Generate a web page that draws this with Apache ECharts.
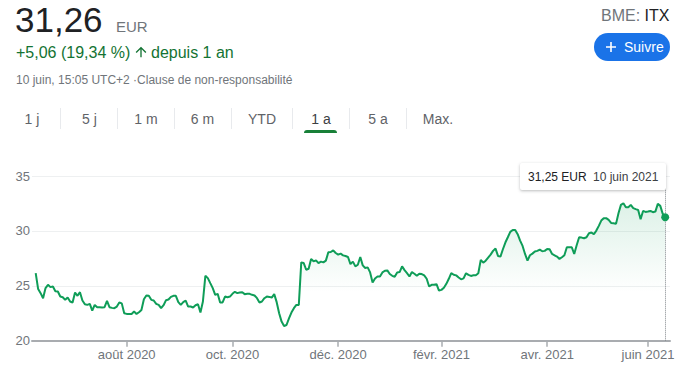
<!DOCTYPE html>
<html>
<head>
<meta charset="utf-8">
<script src="https://cdn.jsdelivr.net/npm/echarts@6/dist/echarts.min.js"></script>
<style>
  html, body { margin:0; padding:0; width:690px; height:369px; overflow:hidden; background:#fff;
    font-family: "Liberation Sans", Arial, sans-serif; }
  #chart { position:absolute; left:0; top:0; width:690px; height:369px; }
  .t { position:absolute; white-space:nowrap; line-height:1; }
  .tab { position:absolute; top:112px; font-size:14px; color:#5f6368; transform:translateX(-50%); white-space:nowrap; line-height:1; }
  .sep { position:absolute; top:108px; width:1px; height:21px; background:#e8eaed; }
</style>
</head>
<body>
<div id="chart"></div>

<div class="t" style="left:15px;top:2px;font-size:35px;color:#202124;">31,26</div>
<div class="t" style="left:116px;top:19px;font-size:15px;color:#70757a;">EUR</div>
<div class="t" style="left:16px;top:45px;font-size:16px;color:#137333;">+5,06 (19,34 %)</div>
<svg style="position:absolute;left:133px;top:44px;" width="16" height="16" viewBox="0 0 24 24"><path fill="#137333" d="M4 12l1.41 1.41L11 7.83V20h2V7.83l5.58 5.59L20 12l-8-8-8 8z"/></svg>
<div class="t" style="left:151px;top:45px;font-size:16px;color:#137333;">depuis 1 an</div>
<div class="t" style="left:16px;top:74px;font-size:12px;color:#70757a;">10 juin, 15:05 UTC+2 ·Clause de non-responsabilité</div>

<div class="t" style="left:601px;top:8px;font-size:16px;color:#70757a;">BME: <span style="color:#202124">ITX</span></div>
<div style="position:absolute;left:594px;top:33px;width:76px;height:28px;border-radius:14px;background:#1a73e8;"></div>
<svg style="position:absolute;left:605px;top:41px;" width="12" height="12" viewBox="0 0 12 12"><path d="M6 1v10M1 6h10" stroke="#fff" stroke-width="1.6"/></svg>
<div class="t" style="left:624px;top:40px;font-size:14px;color:#fff;">Suivre</div>

<div class="tab" style="left:32px;">1 j</div>
<div class="sep" style="left:60px;"></div>
<div class="tab" style="left:89.5px;">5 j</div>
<div class="sep" style="left:117px;"></div>
<div class="tab" style="left:146px;">1 m</div>
<div class="sep" style="left:174px;"></div>
<div class="tab" style="left:202.5px;">6 m</div>
<div class="sep" style="left:231px;"></div>
<div class="tab" style="left:262px;">YTD</div>
<div class="sep" style="left:292px;"></div>
<div class="tab" style="left:321px;color:#3c4043;">1 a</div>
<div class="sep" style="left:349px;"></div>
<div class="tab" style="left:378px;">5 a</div>
<div class="sep" style="left:406px;"></div>
<div class="tab" style="left:438px;">Max.</div>
<div style="position:absolute;left:304px;top:130px;width:33px;height:3px;border-radius:3px 3px 0 0;background:#188038;"></div>

<div style="position:absolute;left:520px;top:163px;width:146px;height:27px;background:#fff;border-radius:2px;box-shadow:0 1px 3px rgba(60,64,67,0.35);"></div>
<div class="t" style="left:528px;top:171px;font-size:12px;color:#202124;">31,25 EUR</div>
<div class="t" style="left:593px;top:171px;font-size:12px;color:#3c4043;">10 juin 2021</div>

<script>
// ---- data ----
const startDate = '2020-06-11';
const endDate = '2021-06-10';
const holidays = ['2020-12-25', '2021-01-01', '2021-04-02', '2021-04-05'];

const prices = [
  26.16, 24.70, 24.33, 23.87, 24.79, 25.09, 24.88, 24.94, 24.51, 24.48,
  24.02, 23.96, 23.72, 23.93, 23.57, 23.48, 24.39, 24.09, 24.42, 23.66,
  23.32, 23.26, 23.35, 22.74, 23.26, 23.05, 23.05, 23.02, 23.05, 23.63,
  23.05, 22.99, 22.96, 23.11, 23.48, 23.40, 22.50, 22.44, 22.44, 22.44,
  22.65, 22.44, 22.59, 22.80, 23.78, 24.12, 24.09, 23.72, 23.66, 23.35,
  23.26, 22.96, 23.23, 23.69, 23.75, 23.99, 24.09, 24.09, 23.51, 23.26,
  23.51, 23.66, 23.11, 23.11, 23.02, 23.23, 23.32, 22.56, 23.57, 25.91,
  25.70, 25.24, 24.79, 24.18, 24.27, 23.48, 23.48, 24.02, 23.96, 24.02,
  24.27, 24.45, 24.33, 24.39, 24.42, 24.24, 24.27, 24.27, 24.18, 24.12,
  23.87, 23.48, 23.57, 23.87, 24.02, 23.99, 23.93, 24.24, 23.51, 22.50,
  21.74, 21.34, 21.43, 22.04, 22.56, 22.96, 23.26, 23.26, 27.13, 27.07,
  26.46, 26.55, 27.44, 27.23, 27.32, 27.07, 27.20, 27.13, 27.29, 28.05,
  28.08, 28.23, 27.99, 27.84, 27.93, 27.77, 27.71, 27.62, 26.98, 27.20,
  26.77, 26.92, 27.62, 26.86, 26.62, 26.68, 26.22, 25.30, 25.67, 25.85,
  25.85, 26.22, 26.37, 26.40, 26.07, 25.91, 25.82, 26.22, 26.25, 26.77,
  26.43, 26.16, 25.85, 26.25, 26.10, 25.91, 26.10, 26.07, 25.95, 25.64,
  24.94, 25.09, 25.09, 25.15, 24.57, 24.63, 24.82, 25.18, 25.64, 26.16,
  26.01, 25.95, 25.76, 25.59, 25.68, 26.14, 25.99, 25.90, 25.96, 25.96,
  26.14, 27.36, 27.11, 27.29, 27.57, 27.84, 28.18, 28.39, 27.72, 27.66,
  28.33, 28.94, 29.42, 29.91, 30.09, 30.09, 29.70, 29.12, 28.63, 27.90,
  27.29, 27.78, 27.93, 28.12, 28.18, 28.30, 28.15, 28.18, 28.36, 28.33,
  27.90, 27.78, 27.66, 27.45, 27.60, 27.78, 28.51, 28.51, 28.51, 27.90,
  28.69, 29.42, 29.39, 29.33, 29.42, 29.79, 29.85, 29.70, 30.03, 30.46,
  30.94, 31.16, 31.16, 31.00, 30.73, 30.70, 30.64, 31.61, 32.37, 32.52,
  32.16, 32.16, 32.37, 32.07, 31.98, 31.91, 31.06, 31.82, 31.73, 31.76,
  31.82, 31.70, 31.76, 32.46, 32.28, 31.55, 31.25
];

const yTicks = [20, 25, 30, 35];
const tickDates = ['2020-08-03', '2020-10-01', '2020-12-01', '2021-02-01', '2021-04-01', '2021-06-01'];
const tickLabels = ['août 2020', 'oct. 2020', 'déc. 2020', 'févr. 2021', 'avr. 2021', 'juin 2021'];

// trading-day calendar (categories)
const dates = [];
(function () {
  const d = new Date(startDate + 'T00:00:00Z');
  const end = new Date(endDate + 'T00:00:00Z');
  while (d <= end) {
    const iso = d.toISOString().slice(0, 10);
    const wd = d.getUTCDay();
    if (wd !== 0 && wd !== 6 && holidays.indexOf(iso) < 0) dates.push(iso);
    d.setUTCDate(d.getUTCDate() + 1);
  }
})();

const GREEN = '#0f9d58';
const FONT = '"Liberation Sans", Arial, sans-serif';
const isTick = (i, v) => tickDates.indexOf(v) >= 0;
const last = dates.length - 1;

const chart = echarts.init(document.getElementById('chart'), null, { renderer: 'svg' });
chart.setOption({
  animation: false,
  grid: [
    { left: 32, right: 20, top: 176, bottom: 28.3 },
    { left: 35.7, right: 24.8, top: 176, bottom: 28.3 }
  ],
  xAxis: [
    {
      gridIndex: 0, type: 'value', min: 0, max: 1,
      axisLine: { show: true, lineStyle: { color: '#a9acb0', width: 2 } },
      axisTick: { show: false }, axisLabel: { show: false }, splitLine: { show: false }
    },
    {
      gridIndex: 1, type: 'category', data: dates, boundaryGap: false,
      axisLine: { show: false },
      axisTick: { show: true, interval: isTick, length: 6, lineStyle: { color: '#a9acb0', width: 1.5 } },
      axisLabel: {
        interval: isTick, margin: 7, fontSize: 13, color: '#70757a', fontFamily: FONT,
        formatter: v => tickLabels[tickDates.indexOf(v)]
      },
      splitLine: { show: false }
    }
  ],
  yAxis: [
    {
      gridIndex: 0, type: 'value', min: yTicks[0], max: yTicks[yTicks.length - 1], interval: 5,
      axisLine: { show: false }, axisTick: { show: false },
      axisLabel: { margin: 2, fontSize: 13, color: '#70757a', fontFamily: FONT },
      splitLine: { show: true, lineStyle: { color: '#eef0f1', width: 1 } }
    },
    {
      gridIndex: 1, type: 'value', min: yTicks[0], max: yTicks[yTicks.length - 1], interval: 5,
      show: false, splitLine: { show: false }
    }
  ],
  series: [{
    type: 'line',
    xAxisIndex: 1, yAxisIndex: 1,
    data: prices,
    showSymbol: false,
    lineStyle: { color: GREEN, width: 2 },
    itemStyle: { color: GREEN },
    areaStyle: {
      color: new echarts.graphic.LinearGradient(0, 0, 0, 1, [
        { offset: 0, color: 'rgba(15,157,88,0.20)' },
        { offset: 0.65, color: 'rgba(15,157,88,0.0)' },
        { offset: 1, color: 'rgba(15,157,88,0.0)' }
      ])
    },
    markPoint: {
      silent: true,
      symbol: 'circle', symbolSize: 8,
      itemStyle: { color: GREEN },
      label: { show: false },
      data: [{ coord: [dates[last], prices[last]] }]
    },
    markLine: {
      silent: true, symbol: 'none', label: { show: false },
      lineStyle: { color: '#80868b', type: 'dotted', width: 1 },
      data: [{ xAxis: dates[last] }]
    }
  }]
});
</script>
</body>
</html>
